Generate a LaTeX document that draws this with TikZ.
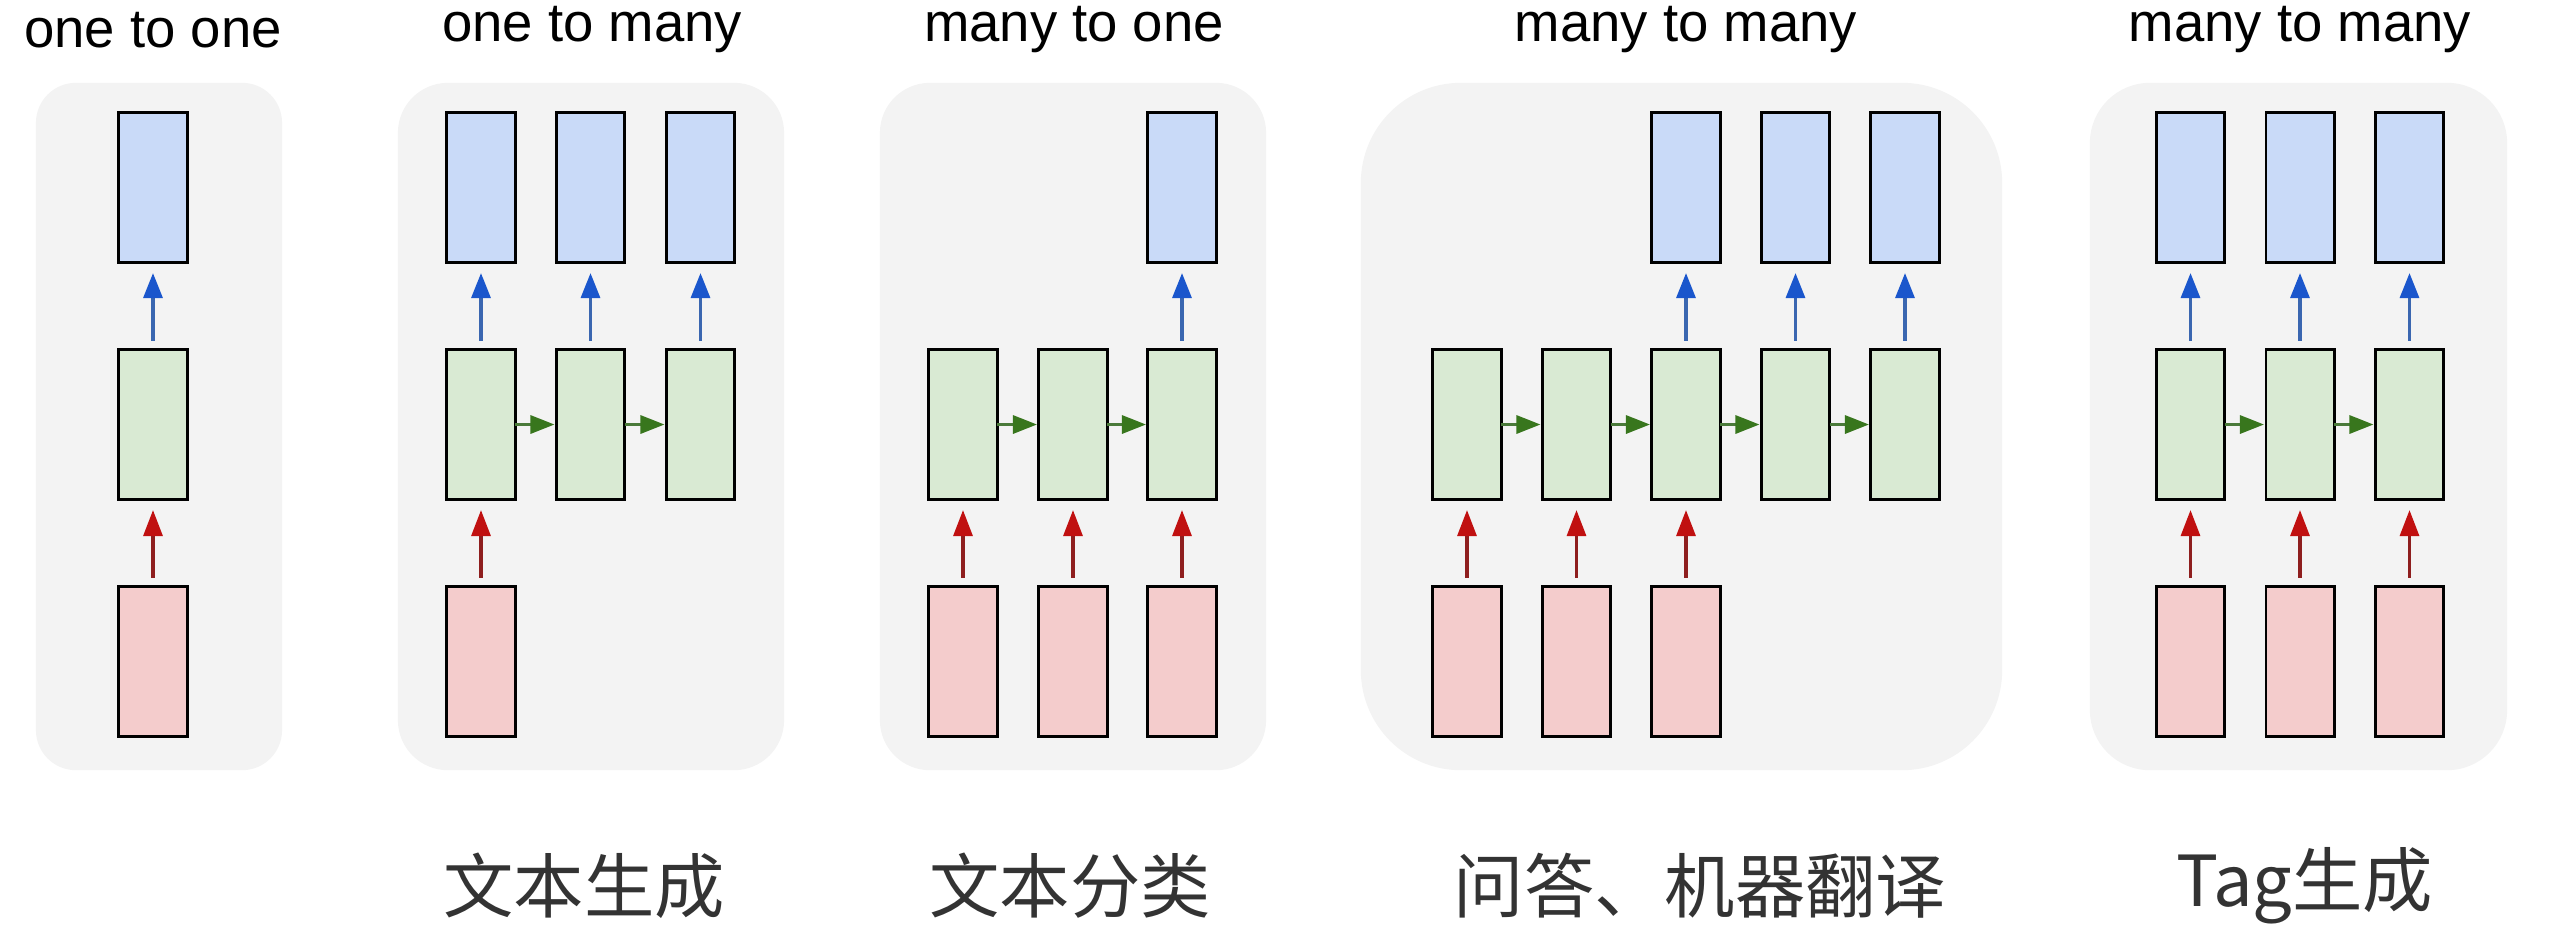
\documentclass[tikz,border=0pt]{standalone}
\usepackage{fontspec}
\setmainfont{Liberation Sans}
\newfontfamily\cjk{Noto Sans CJK SC}
\usetikzlibrary{arrows.meta}
\definecolor{panelgray}{HTML}{F3F3F3}
\definecolor{outblue}{HTML}{C9DAF8}
\definecolor{hidgreen}{HTML}{D9EAD3}
\definecolor{inred}{HTML}{F4CCCC}
\definecolor{arrblue}{HTML}{1A56CC}
\definecolor{shaftblue}{HTML}{3A66B0}
\definecolor{arrgreen}{HTML}{38761D}
\definecolor{shaftgreen}{HTML}{4A7A3A}
\definecolor{arrred}{HTML}{C01010}
\definecolor{shaftred}{HTML}{8E1E1E}
\definecolor{labelgray}{HTML}{333333}
\tikzset{
  cell/.style={draw=black, line width=0.85pt, minimum width=0.68cm, minimum height=1.49cm, inner sep=0pt, outer sep=0pt},
  outcell/.style={cell, fill=outblue},
  hidcell/.style={cell, fill=hidgreen},
  incell/.style={cell, fill=inred},
  panel/.style={fill=panelgray, inner sep=0pt, minimum height=6.87cm},
  title/.style={font=\fontsize{15.5pt}{18pt}\selectfont, text=black, inner sep=0pt},
  cnlabel/.style={font=\fontsize{20pt}{24pt}\selectfont\cjk, text=labelgray, inner sep=0pt},
  upblue/.style={draw=shaftblue, line width=0.9pt, -{Triangle[length=0.25cm,width=0.19cm,color=arrblue]}, shorten <=0.09cm, shorten >=0.11cm},
  upred/.style={draw=shaftred, line width=0.9pt, -{Triangle[length=0.26cm,width=0.19cm,color=arrred]}, shorten <=0.09cm, shorten >=0.11cm},
  rightgreen/.style={draw=shaftgreen, line width=0.9pt, -{Triangle[length=0.24cm,width=0.18cm,color=arrgreen]}, shorten >=0.02cm},
}
\begin{document}
\begin{tikzpicture}[x=0.01cm, y=-0.01cm]
\useasboundingbox (0,0) rectangle (2556,944);
% panels
\node[panel, minimum width=2.46cm, rounded corners=0.4cm] (p1) at (159,426.5) {};
\node[panel, minimum width=3.86cm, rounded corners=0.5cm] (p2) at (591,426.5) {};
\node[panel, minimum width=3.86cm, rounded corners=0.5cm] (p3) at (1073,426.5) {};
\node[panel, minimum width=6.41cm, rounded corners=1.0cm] (p4) at (1681.5,426.5) {};
\node[panel, minimum width=4.17cm, rounded corners=0.6cm] (p5) at (2298.5,426.5) {};
% titles
\node[title] (t1) at (153,30) {one to one};
\node[title] (t2) at (592,30) {one to many};
\node[title] (t3) at (1074,30) {many to one};
\node[title] (t4) at (1686,30) {many to many};
\node[title] (t5) at (2300,30) {many to many};
% labels
\node[cnlabel] (l2) at (584,886) {文本生成};
\node[cnlabel] (l3) at (1070,886) {文本分类};
\node[cnlabel] (l4) at (1700,886) {问答、机器翻译};
\node[cnlabel] (l5) at (2305,886) {Tag生成};
% panel 1: one to one
\node[outcell] (o1a) at (153,187.5) {};
\node[hidcell] (h1a) at (153,424.5) {};
\node[incell] (i1a) at (153,661.5) {};
\draw[upblue] (h1a) -- (o1a);
\draw[upred] (i1a) -- (h1a);
% panel 2: one to many
\node[outcell] (o2a) at (481,187.5) {};
\node[outcell] (o2b) at (590.5,187.5) {};
\node[outcell] (o2c) at (700.5,187.5) {};
\node[hidcell] (h2a) at (481,424.5) {};
\node[hidcell] (h2b) at (590.5,424.5) {};
\node[hidcell] (h2c) at (700.5,424.5) {};
\node[incell] (i2a) at (481,661.5) {};
\draw[upblue] (h2a) -- (o2a);
\draw[upblue] (h2b) -- (o2b);
\draw[upblue] (h2c) -- (o2c);
\draw[rightgreen] (h2a) -- (h2b);
\draw[rightgreen] (h2b) -- (h2c);
\draw[upred] (i2a) -- (h2a);
% panel 3: many to one
\node[outcell] (o3c) at (1182,187.5) {};
\node[hidcell] (h3a) at (963,424.5) {};
\node[hidcell] (h3b) at (1073,424.5) {};
\node[hidcell] (h3c) at (1182,424.5) {};
\node[incell] (i3a) at (963,661.5) {};
\node[incell] (i3b) at (1073,661.5) {};
\node[incell] (i3c) at (1182,661.5) {};
\draw[upblue] (h3c) -- (o3c);
\draw[rightgreen] (h3a) -- (h3b);
\draw[rightgreen] (h3b) -- (h3c);
\draw[upred] (i3a) -- (h3a);
\draw[upred] (i3b) -- (h3b);
\draw[upred] (i3c) -- (h3c);
% panel 4: many to many (seq2seq)
\begin{scope}[every node/.append style={minimum width=0.66cm}]
\node[outcell] (o4c) at (1686,187.5) {};
\node[outcell] (o4d) at (1795.5,187.5) {};
\node[outcell] (o4e) at (1905,187.5) {};
\node[hidcell] (h4a) at (1467,424.5) {};
\node[hidcell] (h4b) at (1576.5,424.5) {};
\node[hidcell] (h4c) at (1686,424.5) {};
\node[hidcell] (h4d) at (1795.5,424.5) {};
\node[hidcell] (h4e) at (1905,424.5) {};
\node[incell] (i4a) at (1467,661.5) {};
\node[incell] (i4b) at (1576.5,661.5) {};
\node[incell] (i4c) at (1686,661.5) {};
% panel 5: many to many (synced)
\node[outcell] (o5a) at (2190.5,187.5) {};
\node[outcell] (o5b) at (2300,187.5) {};
\node[outcell] (o5c) at (2409.5,187.5) {};
\node[hidcell] (h5a) at (2190.5,424.5) {};
\node[hidcell] (h5b) at (2300,424.5) {};
\node[hidcell] (h5c) at (2409.5,424.5) {};
\node[incell] (i5a) at (2190.5,661.5) {};
\node[incell] (i5b) at (2300,661.5) {};
\node[incell] (i5c) at (2409.5,661.5) {};
\end{scope}
\draw[upblue] (h4c) -- (o4c);
\draw[upblue] (h4d) -- (o4d);
\draw[upblue] (h4e) -- (o4e);
\draw[rightgreen] (h4a) -- (h4b);
\draw[rightgreen] (h4b) -- (h4c);
\draw[rightgreen] (h4c) -- (h4d);
\draw[rightgreen] (h4d) -- (h4e);
\draw[upred] (i4a) -- (h4a);
\draw[upred] (i4b) -- (h4b);
\draw[upred] (i4c) -- (h4c);
\draw[upblue] (h5a) -- (o5a);
\draw[upblue] (h5b) -- (o5b);
\draw[upblue] (h5c) -- (o5c);
\draw[rightgreen] (h5a) -- (h5b);
\draw[rightgreen] (h5b) -- (h5c);
\draw[upred] (i5a) -- (h5a);
\draw[upred] (i5b) -- (h5b);
\draw[upred] (i5c) -- (h5c);
\end{tikzpicture}
\end{document}
